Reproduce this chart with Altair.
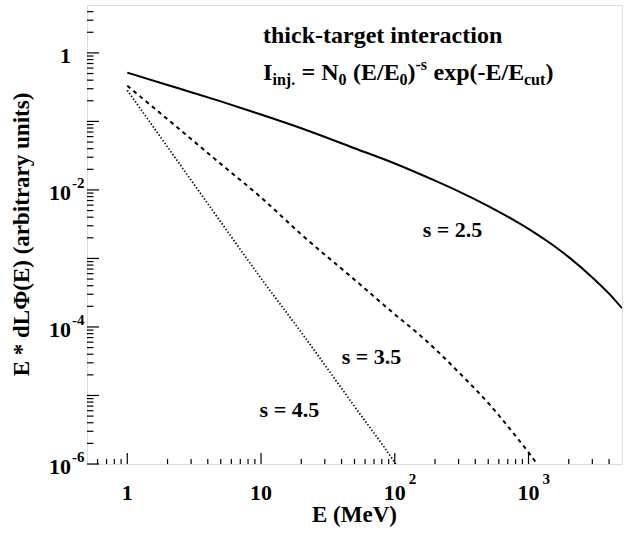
import altair as alt
import pandas as pd

FONT = "Liberation Serif"

# Thick-target photon spectra, E * dLPhi(E) in arbitrary units, for three injection indices
energy_s25 = [1, 2, 3, 5, 10, 20, 50, 100, 200, 300, 500, 800, 1000, 1500, 2000, 3000, 4000, 5000]
flux_s25 = [0.516, 0.340, 0.267, 0.196, 0.126, 0.0794, 0.0406, 0.0243, 0.01365, 0.00955,
            0.00582, 0.003508, 0.002704, 0.001596, 0.001045, 0.000528, 0.000306, 0.0001875]

energy_s35 = [1, 2, 5, 10, 20, 50, 100, 150, 200, 300, 500, 800, 1000, 1200]
flux_s35 = [0.331, 0.1076, 0.0240, 0.00776, 0.00224, 0.00049, 0.000153, 7.94e-5,
            4.79e-5, 2.19e-5, 7.76e-6, 2.57e-6, 1.48e-6, 9.1e-7]

energy_s45 = [1, 2, 5, 10, 20, 50, 100, 110]
flux_s45 = [0.285, 0.0424, 0.00341, 5.13e-4, 8.32e-5, 6.92e-6, 1.05e-6, 7.9e-7]

# Curve labels: text, energy, flux
curve_labels = ["s = 2.5", "s = 3.5", "s = 4.5"]
curve_label_e = [270, 67, 16.3]
curve_label_f = [0.0026, 3.6e-5, 6.2e-6]

# Axis ticks and labels
x_major = [1, 10, 100, 1000]
x_minor = [0.6, 0.7, 0.8, 0.9] + [k * 10 ** d for d in range(0, 3) for k in range(2, 10)] + [2000, 3000, 4000]
y_major = [1e-6, 1e-5, 1e-4, 1e-3, 1e-2, 1e-1, 1]
y_minor = [k * 10.0 ** d for d in range(-6, 0) for k in range(2, 10)] + [2, 3, 4]

x_label_pos = [1, 10, 100, 1000]
x_label_base = ["1", "10", "10", "10"]
x_label_exp_pos = [100, 1000]
x_label_exp = ["2", "3"]

y_label_pos = [1, 1e-2, 1e-4, 1e-6]
y_label_base = ["1", "10", "10", "10"]
y_label_exp_pos = [1e-2, 1e-4, 1e-6]
y_label_exp = ["-2", "-4", "-6"]

W, H = 535, 459

x_scale = alt.Scale(type="log", domain=[0.5, 5000], nice=False)
y_scale = alt.Scale(type="log", domain=[1e-6, 5], nice=False)
X = lambda f: alt.X(f, type="quantitative", scale=x_scale, axis=None)
Y = lambda f: alt.Y(f, type="quantitative", scale=y_scale, axis=None)


def curve(e, f, **style):
    df = pd.DataFrame({"E": e, "F": f})
    return alt.Chart(df).mark_line(clip=True, color="black", interpolate="monotone", **style).encode(
        x=X("E"), y=Y("F"))


solid = curve(energy_s25, flux_s25, strokeWidth=2)
dashed = curve(energy_s35, flux_s35, strokeWidth=2, strokeDash=[4, 4])
dotted = curve(energy_s45, flux_s45, strokeWidth=1.7, strokeDash=[1.4, 2])

bold = dict(font=FONT, fontWeight="bold", color="black")

labels = alt.Chart(pd.DataFrame({"t": curve_labels, "E": curve_label_e, "F": curve_label_f})).mark_text(
    fontSize=22, align="center", baseline="middle", **bold).encode(x=X("E"), y=Y("F"), text="t:N")

# inward ticks on the bottom and left edges
xt_major = alt.Chart(pd.DataFrame({"E": x_major})).mark_rule(color="black", strokeWidth=1.2).encode(
    x=X("E"), y=alt.value(H), y2=alt.value(H - 11))
xt_minor = alt.Chart(pd.DataFrame({"E": x_minor})).mark_rule(color="black", strokeWidth=1.2).encode(
    x=X("E"), y=alt.value(H), y2=alt.value(H - 5))
yt_major = alt.Chart(pd.DataFrame({"F": y_major})).mark_rule(color="black", strokeWidth=1.2).encode(
    y=Y("F"), x=alt.value(0), x2=alt.value(12))
yt_minor = alt.Chart(pd.DataFrame({"F": y_minor})).mark_rule(color="black", strokeWidth=1.2).encode(
    y=Y("F"), x=alt.value(0), x2=alt.value(6.5))

xl = alt.Chart(pd.DataFrame({"E": x_label_pos, "t": x_label_base})).mark_text(
    fontSize=22, align="center", baseline="alphabetic", **bold).encode(x=X("E"), y=alt.value(H + 36), text="t:N")
xl_exp = alt.Chart(pd.DataFrame({"E": x_label_exp_pos, "t": x_label_exp})).mark_text(
    fontSize=15, align="left", baseline="alphabetic", dx=14, **bold).encode(x=X("E"), y=alt.value(H + 20), text="t:N")

yl = alt.Chart(pd.DataFrame({"F": y_label_pos, "t": y_label_base})).mark_text(
    fontSize=22, align="right", baseline="alphabetic", dy=10, **bold).encode(x=alt.value(-16), y=Y("F"), text="t:N")
yl_exp = alt.Chart(pd.DataFrame({"F": y_label_exp_pos, "t": y_label_exp})).mark_text(
    fontSize=15, align="left", baseline="alphabetic", dy=-2, **bold).encode(x=alt.value(-15), y=Y("F"), text="t:N")

x_title = alt.Chart(pd.DataFrame({"t": ["E (MeV)"]})).mark_text(
    fontSize=23, align="center", baseline="alphabetic", **bold).encode(
    x=alt.value(W / 2), y=alt.value(H + 58), text="t:N")
y_title = alt.Chart(pd.DataFrame({"t": ["E * dLΦ(E) (arbitrary units)"]})).mark_text(
    fontSize=23, align="center", baseline="middle", angle=270, **bold).encode(
    x=alt.value(-65), y=alt.value(H / 2), text="t:N")

# header: process name and injection spectrum, built from pieces for sub/superscripts
TX = 176
header_text = ["thick-target interaction", "I", "inj.", "= N", "0", "(E/E", "0", ")", "-s", "exp(-E/E", "cut", ")"]
header_dx = [0, 0, 9.5, 38.5, 75.5, 90, 136.5, 144.5, 152.5, 170.5, 261, 282.5]
header_dy = [0, 0, 5, 0, 5, 0, 5, 0, -10, 0, 5, 0]
header_size = [24, 24, 16, 24, 16, 24, 16, 24, 16, 24, 16, 24]
header_line = [38, 75, 75, 75, 75, 75, 75, 75, 75, 75, 75, 75]
header = alt.Chart(pd.DataFrame({
    "t": header_text,
    "x": [TX + d for d in header_dx],
    "y": [l + d for l, d in zip(header_line, header_dy)],
    "s": header_size,
})).mark_text(align="left", baseline="alphabetic", **bold).encode(
    x=alt.X("x:Q", scale=None), y=alt.Y("y:Q", scale=None),
    size=alt.Size("s:Q", scale=None, legend=None), text="t:N")

chart = alt.layer(
    solid, dashed, dotted, labels,
    xt_major, xt_minor, yt_major, yt_minor,
    xl, xl_exp, yl, yl_exp, x_title, y_title, header,
).properties(
    width=W, height=H,
    autosize=alt.AutoSizeParams(type="none"),
    padding={"left": 87, "top": 5, "right": 3, "bottom": 70},
).configure_view(stroke="black", strokeWidth=1.6).configure(background="white")

chart.save("out.html", embed_options={"renderer": "svg", "actions": False})
